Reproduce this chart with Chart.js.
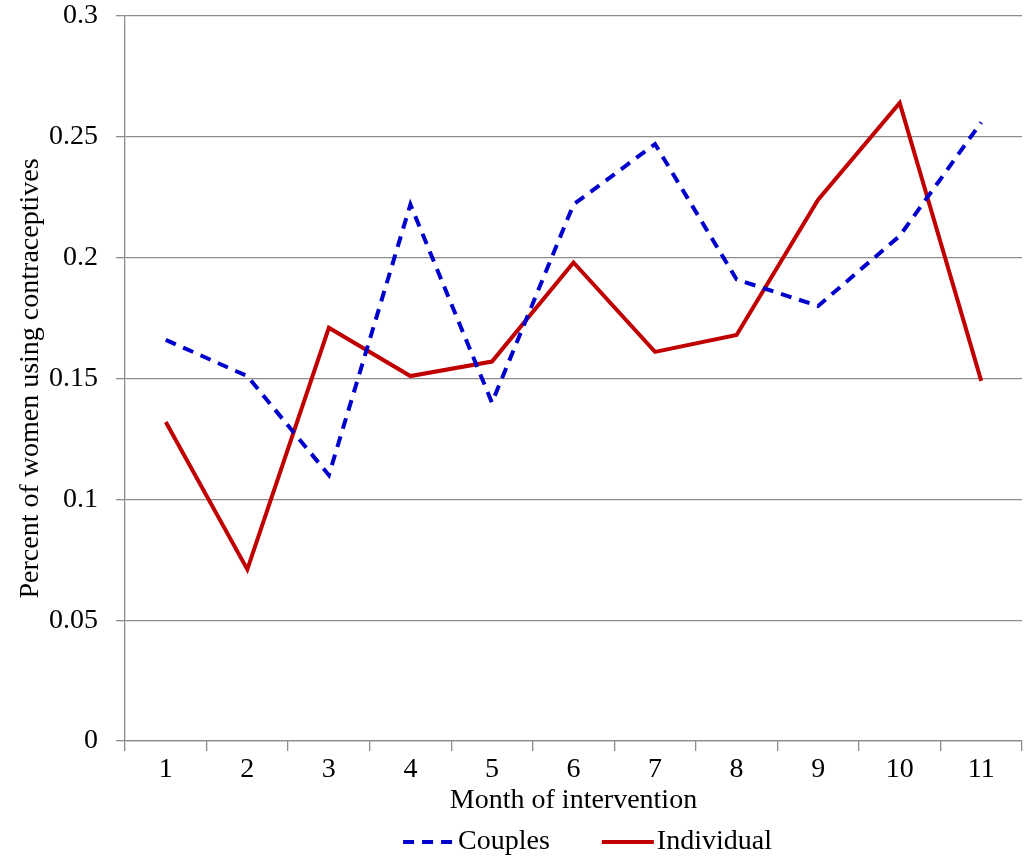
<!DOCTYPE html>
<html>
<head>
<meta charset="utf-8">
<script src="https://cdn.jsdelivr.net/npm/chart.js@4/dist/chart.umd.min.js"></script>
<style>
  html, body { margin: 0; padding: 0; background: #fff; }
  #wrap { width: 1024px; height: 864px; }
</style>
</head>
<body>
<div id="wrap"><canvas id="chart" width="1024" height="864"></canvas></div>
<script>
const MONTHS = ['1', '2', '3', '4', '5', '6', '7', '8', '9', '10', '11'];
const COUPLES = [0.166, 0.151, 0.110, 0.222, 0.140, 0.222, 0.247, 0.191, 0.180, 0.209, 0.256];
const INDIVIDUAL = [0.132, 0.071, 0.171, 0.151, 0.157, 0.198, 0.161, 0.168, 0.224, 0.264, 0.149];
const Y_TICKS = ['0', '0.05', '0.1', '0.15', '0.2', '0.25', '0.3'];

const SERIF = '"Liberation Serif", "Times New Roman", serif';
const GRID = '#8c8c8c';
const FONT_SIZE = 28;

// legend under the axis title, drawn from the dataset styles
const bottomLegend = {
    id: 'bottomLegend',
    afterDraw(chart) {
        const ctx = chart.ctx;
        const sets = chart.data.datasets;
        const lineW = 52, gap = 3, between = 52;
        ctx.save();
        ctx.font = FONT_SIZE + 'px ' + SERIF;
        const widths = sets.map(ds => lineW + gap + ctx.measureText(ds.label).width);
        const total = widths.reduce((a, b) => a + b, 0) + between * (sets.length - 1);
        const area = chart.chartArea;
        let x = (area.left + area.right) / 2 + 14 - total / 2;
        const y = 842;
        sets.forEach((ds, i) => {
            ctx.beginPath();
            ctx.strokeStyle = ds.borderColor;
            ctx.lineWidth = ds.borderWidth;
            ctx.setLineDash(ds.borderDash || []);
            ctx.moveTo(x, y);
            ctx.lineTo(x + lineW, y);
            ctx.stroke();
            ctx.setLineDash([]);
            ctx.fillStyle = '#000';
            ctx.textBaseline = 'middle';
            ctx.textAlign = 'left';
            ctx.fillText(ds.label, x + lineW + gap, y);
            x += widths[i] + between;
        });
        ctx.restore();
    }
};

new Chart(document.getElementById('chart'), {
    type: 'line',
    data: {
        labels: MONTHS,
        datasets: [
            { label: 'Couples', data: COUPLES, borderColor: '#0000cc', borderWidth: 4, borderDash: [11, 8], pointRadius: 0, tension: 0, fill: false },
            { label: 'Individual', data: INDIVIDUAL, borderColor: '#c00000', borderWidth: 4, pointRadius: 0, tension: 0, fill: false }
        ]
    },
    options: {
        responsive: false,
        animation: false,
        layout: { padding: { top: 16, right: 2, bottom: 46, left: 0 } },
        plugins: { legend: { display: false }, tooltip: { enabled: false } },
        scales: {
            x: {
                offset: true,
                grid: { offset: true, drawOnChartArea: false, color: GRID, lineWidth: 1.3, tickLength: 10 },
                border: { color: GRID, width: 1.3 },
                ticks: { color: '#000', font: { family: SERIF, size: FONT_SIZE }, padding: 2, maxRotation: 0 },
                title: { display: true, text: 'Month of intervention', color: '#000', font: { family: SERIF, size: FONT_SIZE }, padding: { top: 0, bottom: 1 } },
                afterFit(scale) { scale.height = 77; scale.paddingLeft = 0; scale.paddingRight = 0; }
            },
            y: {
                min: 0,
                max: 0.3,
                ticks: {
                    stepSize: 0.05,
                    color: '#000',
                    font: { family: SERIF, size: FONT_SIZE },
                    padding: 18,
                    callback: (v, i) => Y_TICKS[i]
                },
                grid: { color: GRID, lineWidth: 1.3, tickLength: 9 },
                border: { color: GRID, width: 1.3 },
                title: { display: true, text: 'Percent of women using contraceptives', color: '#000', font: { family: SERIF, size: FONT_SIZE }, padding: { top: 14, bottom: 0 } },
                afterFit(scale) { scale.width = 125; scale.paddingTop = 0; scale.paddingBottom = 0; }
            }
        }
    },
    plugins: [bottomLegend]
});
</script>
</body>
</html>
